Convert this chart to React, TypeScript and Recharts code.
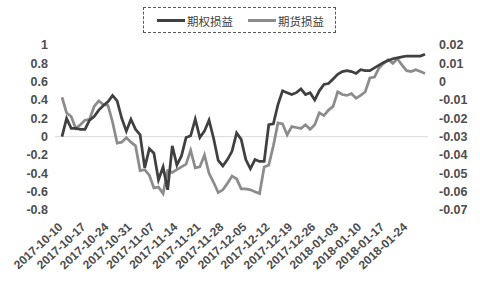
import { Line, LineChart, ReferenceLine, XAxis, YAxis } from "recharts";

// trading days, labels every 5th
const dates = [
  "2017-10-10", "2017-10-11", "2017-10-12", "2017-10-13", "2017-10-16",
  "2017-10-17", "2017-10-18", "2017-10-19", "2017-10-20", "2017-10-23",
  "2017-10-24", "2017-10-25", "2017-10-26", "2017-10-27", "2017-10-30",
  "2017-10-31", "2017-11-01", "2017-11-02", "2017-11-03", "2017-11-06",
  "2017-11-07", "2017-11-08", "2017-11-09", "2017-11-10", "2017-11-13",
  "2017-11-14", "2017-11-15", "2017-11-16", "2017-11-17", "2017-11-20",
  "2017-11-21", "2017-11-22", "2017-11-23", "2017-11-24", "2017-11-27",
  "2017-11-28", "2017-11-29", "2017-11-30", "2017-12-01", "2017-12-04",
  "2017-12-05", "2017-12-06", "2017-12-07", "2017-12-08", "2017-12-11",
  "2017-12-12", "2017-12-13", "2017-12-14", "2017-12-15", "2017-12-18",
  "2017-12-19", "2017-12-20", "2017-12-21", "2017-12-22", "2017-12-25",
  "2017-12-26", "2017-12-27", "2017-12-28", "2017-12-29", "2018-01-02",
  "2018-01-03", "2018-01-04", "2018-01-05", "2018-01-08", "2018-01-09",
  "2018-01-10", "2018-01-11", "2018-01-12", "2018-01-15", "2018-01-16",
  "2018-01-17", "2018-01-18", "2018-01-19", "2018-01-22", "2018-01-23",
  "2018-01-24", "2018-01-25", "2018-01-26", "2018-01-29", "2018-01-30",
];

// 期权损益 (left axis)
const optionPnl = [
  0, 0.2, 0.09, 0.09, 0.08, 0.08, 0.18, 0.22, 0.29, 0.34,
  0.38, 0.45, 0.39, 0.2, 0.06, 0.19, 0.08, 0.02, -0.34, -0.13,
  -0.18, -0.47, -0.33, -0.58, -0.1, -0.31, -0.21, -0.01, 0.01, 0.19,
  -0.01, 0.06, 0.18, -0.02, -0.26, -0.32, -0.25, -0.16, 0.04, -0.03,
  -0.25, -0.35, -0.25, -0.27, -0.27, 0.13, 0.14, 0.35, 0.5, 0.48,
  0.46, 0.48, 0.52, 0.46, 0.48, 0.4, 0.5, 0.57, 0.58, 0.63,
  0.68, 0.71, 0.72, 0.71, 0.69, 0.73, 0.72, 0.72, 0.75, 0.78,
  0.81, 0.83, 0.85, 0.86, 0.87, 0.88, 0.88, 0.88, 0.88, 0.9,
];

// 期货损益 (right axis)
const futuresPnl = [
  -0.0085, -0.017, -0.019, -0.0255, -0.0235, -0.021, -0.0205, -0.0135, -0.0105, -0.0125,
  -0.013, -0.022, -0.0335, -0.033, -0.0305, -0.033, -0.035, -0.0485, -0.048, -0.051,
  -0.058, -0.0575, -0.061, -0.0485, -0.0495, -0.048, -0.0465, -0.045, -0.0375, -0.047,
  -0.0465, -0.04, -0.05, -0.055, -0.0605, -0.059, -0.0555, -0.0515, -0.053, -0.0585,
  -0.0585, -0.059, -0.06, -0.061, -0.0465, -0.0455, -0.035, -0.0225, -0.023, -0.029,
  -0.0245, -0.025, -0.0255, -0.0235, -0.026, -0.0235, -0.017, -0.0185, -0.0155, -0.0135,
  -0.0055, -0.007, -0.0075, -0.0065, -0.009, -0.0075, -0.0055, 0.002, 0.0025, 0.0075,
  0.01, 0.012, 0.01, 0.0125, 0.009, 0.006, 0.0055, 0.0065, 0.0055, 0.0045,
];

const leftTicks = [-0.8, -0.6, -0.4, -0.2, 0, 0.2, 0.4, 0.6, 0.8, 1];
const rightTicks = [-0.07, -0.06, -0.05, -0.04, -0.03, -0.02, -0.01, 0, 0.01, 0.02];

const rows = dates.map((date, i) => ({
  date,
  option: optionPnl[i],
  futures: futuresPnl[i],
}));

const font = '"Liberation Sans", Arial, sans-serif';
const textColor = "#4d4d4d";
const axisStyle = { fontSize: 12.5, fontWeight: 700, fill: textColor, fontFamily: font };

function DateTick({ x, y, payload }: any) {
  const px = x + 1.5;
  const py = y + 18;
  return (
    <text
      x={px}
      y={py}
      transform={`rotate(-43 ${px} ${py})`}
      textAnchor="end"
      fontSize={12}
      fontWeight={700}
      fill={textColor}
      fontFamily={font}
    >
      {payload.value}
    </text>
  );
}

function LegendBox() {
  const item = (color: string, label: string, left: number) => (
    <div style={{ position: "absolute", left, top: 0, height: 25, display: "flex", alignItems: "center" }}>
      <span style={{ display: "inline-block", width: 28, height: 3, background: color, marginRight: 2 }} />
      <span style={{ fontSize: 11.5, color: "#404040", fontFamily: '"Noto Sans CJK SC", sans-serif' }}>{label}</span>
    </div>
  );
  return (
    <div
      style={{
        position: "absolute",
        left: 143,
        top: 7,
        width: 191,
        height: 24,
        border: "1px dashed #595959",
      }}
    >
      {item("#404040", "期权损益", 13)}
      {item("#8c8c8c", "期货损益", 104)}
    </div>
  );
}

export default function App() {
  return (
    <div style={{ position: "absolute", left: 0, top: 0, width: 480, height: 285, background: "#fff" }}>
      <LineChart width={480} height={285} data={rows} margin={{ top: 45, right: 0, bottom: 0, left: 0 }}>
        <XAxis
          dataKey="date"
          interval={4}
          tickLine={false}
          axisLine={false}
          tickSize={0}
          tickMargin={0}
          height={75}
          padding={{ left: 7, right: 3 }}
          tick={<DateTick />}
        />
        <YAxis
          yAxisId="left"
          domain={[-0.8, 1]}
          ticks={leftTicks}
          interval={0}
          width={55}
          axisLine={false}
          tickLine={false}
          tickSize={0}
          tickMargin={7}
          tick={axisStyle}
          tickFormatter={(v: number) => String(Math.round(v * 100) / 100)}
        />
        <YAxis
          yAxisId="right"
          orientation="right"
          domain={[-0.07, 0.02]}
          ticks={rightTicks}
          interval={0}
          width={52}
          axisLine={false}
          tickLine={false}
          tickSize={0}
          tickMargin={11}
          tick={{ ...axisStyle, textAnchor: "start" }}
          tickFormatter={(v: number) => String(Math.round(v * 1000) / 1000)}
        />
        <ReferenceLine yAxisId="left" y={0} stroke="#d9d9d9" strokeWidth={1} />
        <Line
          yAxisId="right"
          dataKey="futures"
          name="期货损益"
          stroke="#8c8c8c"
          strokeWidth={2.75}
          dot={false}
          isAnimationActive={false}
        />
        <Line
          yAxisId="left"
          dataKey="option"
          name="期权损益"
          stroke="#404040"
          strokeWidth={2.75}
          dot={false}
          isAnimationActive={false}
        />
      </LineChart>
      <LegendBox />
    </div>
  );
}
